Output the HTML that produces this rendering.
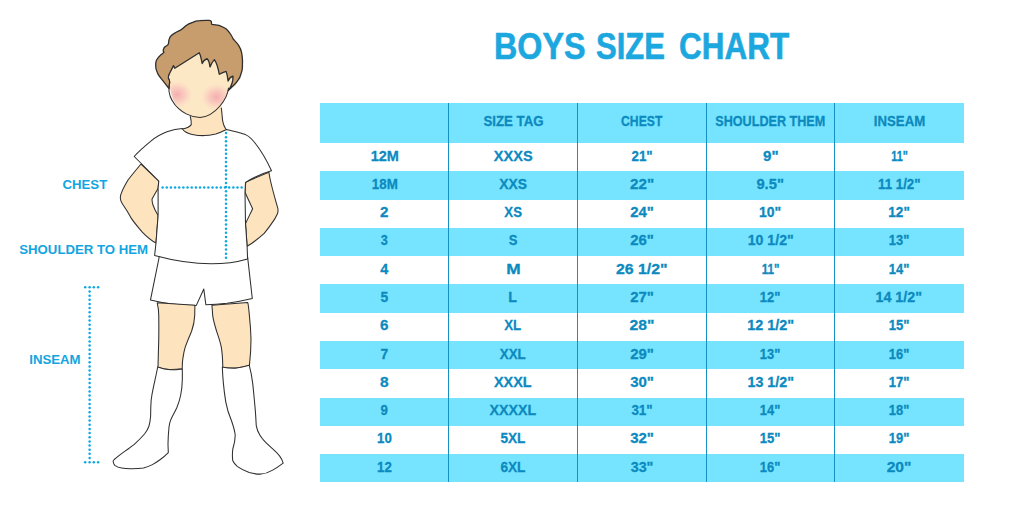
<!DOCTYPE html>
<html><head><meta charset="utf-8"><style>
html,body{margin:0;padding:0;background:#fff;}
body{width:1024px;height:512px;position:relative;overflow:hidden;font-family:"Liberation Sans",sans-serif;}
.band{position:absolute;background:#76E4FE;}
.vl{position:absolute;width:1.05px;background:#1590C3;}
.c{position:absolute;display:flex;align-items:center;justify-content:center;}
.c span{position:relative;display:inline-block;font-weight:bold;font-size:15.2px;line-height:1;color:#0C8ABF;white-space:nowrap;-webkit-text-stroke:0.3px #0C8ABF}
.title{position:absolute;top:28.8px;font-weight:bold;font-size:36px;line-height:1;color:#1CA8DF;white-space:nowrap;transform-origin:0 0;-webkit-text-stroke:0.6px #1CA8DF;}
.lab{position:absolute;font-weight:bold;font-size:13.2px;line-height:1;color:#12A5DF;white-space:nowrap;}
svg{position:absolute;left:0;top:0;}
</style></head><body>
<div class="title" style="left:493.70px;transform:scaleX(0.8959)">BOYS</div><div class="title" style="left:595.70px;transform:scaleX(0.8614)">SIZE</div><div class="title" style="left:679.10px;transform:scaleX(0.8745)">CHART</div>
<div class="band" style="left:320.0px;top:103.0px;width:643.5px;height:40.0px"></div>
<div class="band" style="left:320.0px;top:171.28px;width:643.5px;height:28.28px"></div>
<div class="band" style="left:320.0px;top:227.85px;width:643.5px;height:28.28px"></div>
<div class="band" style="left:320.0px;top:284.42px;width:643.5px;height:28.28px"></div>
<div class="band" style="left:320.0px;top:340.98px;width:643.5px;height:28.28px"></div>
<div class="band" style="left:320.0px;top:397.55px;width:643.5px;height:28.28px"></div>
<div class="band" style="left:320.0px;top:454.12px;width:643.5px;height:28.28px"></div>
<div class="vl" style="left:448.25px;top:103.0px;height:379.40px"></div>
<div class="vl" style="left:576.95px;top:103.0px;height:379.40px"></div>
<div class="vl" style="left:705.65px;top:103.0px;height:379.40px"></div>
<div class="vl" style="left:834.35px;top:103.0px;height:379.40px"></div>
<div class="c" style="left:448.70px;top:103.00px;width:128.70px;height:40.00px"><span style="transform:translateY(-2.20px) scaleX(0.8728)">SIZE TAG</span></div>
<div class="c" style="left:577.40px;top:103.00px;width:128.70px;height:40.00px"><span style="transform:translateY(-2.20px) scaleX(0.8035)">CHEST</span></div>
<div class="c" style="left:706.10px;top:103.00px;width:128.70px;height:40.00px"><span style="transform:translateY(-2.20px) scaleX(0.8299)">SHOULDER THEM</span></div>
<div class="c" style="left:834.80px;top:103.00px;width:128.70px;height:40.00px"><span style="transform:translateY(-2.20px) scaleX(0.8704)">INSEAM</span></div>
<div class="c" style="left:320.00px;top:143.00px;width:128.70px;height:28.28px"><span style="transform:translateY(-2.35px) scaleX(0.9517)">12M</span></div>
<div class="c" style="left:448.70px;top:143.00px;width:128.70px;height:28.28px"><span style="transform:translateY(-2.35px) scaleX(0.9597)">XXXS</span></div>
<div class="c" style="left:577.40px;top:143.00px;width:128.70px;height:28.28px"><span style="transform:translateY(-2.35px) scaleX(0.8764)">21"</span></div>
<div class="c" style="left:706.10px;top:143.00px;width:128.70px;height:28.28px"><span style="transform:translateY(-2.35px) scaleX(0.9954)">9"</span></div>
<div class="c" style="left:834.80px;top:143.00px;width:128.70px;height:28.28px"><span style="transform:translateY(-2.35px) scaleX(0.7099)">11"</span></div>
<div class="c" style="left:320.00px;top:171.28px;width:128.70px;height:28.28px"><span style="transform:translateY(-2.35px) scaleX(0.8777)">18M</span></div>
<div class="c" style="left:448.70px;top:171.28px;width:128.70px;height:28.28px"><span style="transform:translateY(-2.35px) scaleX(0.9136)">XXS</span></div>
<div class="c" style="left:577.40px;top:171.28px;width:128.70px;height:28.28px"><span style="transform:translateY(-2.35px) scaleX(1.0030)">22"</span></div>
<div class="c" style="left:706.10px;top:171.28px;width:128.70px;height:28.28px"><span style="transform:translateY(-2.35px) scaleX(0.9731)">9.5"</span></div>
<div class="c" style="left:834.80px;top:171.28px;width:128.70px;height:28.28px"><span style="transform:translateY(-2.35px) scaleX(0.8761)">11 1/2"</span></div>
<div class="c" style="left:320.00px;top:199.57px;width:128.70px;height:28.28px"><span style="transform:translateY(-2.35px) scaleX(0.9956)">2</span></div>
<div class="c" style="left:448.70px;top:199.57px;width:128.70px;height:28.28px"><span style="transform:translateY(-2.35px) scaleX(0.8708)">XS</span></div>
<div class="c" style="left:577.40px;top:199.57px;width:128.70px;height:28.28px"><span style="transform:translateY(-2.35px) scaleX(0.9826)">24"</span></div>
<div class="c" style="left:706.10px;top:199.57px;width:128.70px;height:28.28px"><span style="transform:translateY(-2.35px) scaleX(0.9166)">10"</span></div>
<div class="c" style="left:834.80px;top:199.57px;width:128.70px;height:28.28px"><span style="transform:translateY(-2.35px) scaleX(0.8944)">12"</span></div>
<div class="c" style="left:320.00px;top:227.85px;width:128.70px;height:28.28px"><span style="transform:translateY(-2.35px) scaleX(0.8373)">3</span></div>
<div class="c" style="left:448.70px;top:227.85px;width:128.70px;height:28.28px"><span style="transform:translateY(-2.35px) scaleX(0.8627)">S</span></div>
<div class="c" style="left:577.40px;top:227.85px;width:128.70px;height:28.28px"><span style="transform:translateY(-2.35px) scaleX(0.9838)">26"</span></div>
<div class="c" style="left:706.10px;top:227.85px;width:128.70px;height:28.28px"><span style="transform:translateY(-2.35px) scaleX(0.9286)">10 1/2"</span></div>
<div class="c" style="left:834.80px;top:227.85px;width:128.70px;height:28.28px"><span style="transform:translateY(-2.35px) scaleX(0.8505)">13"</span></div>
<div class="c" style="left:320.00px;top:256.13px;width:128.70px;height:28.28px"><span style="transform:translateY(-2.35px) scaleX(0.9476)">4</span></div>
<div class="c" style="left:448.70px;top:256.13px;width:128.70px;height:28.28px"><span style="transform:translateY(-2.35px) scaleX(1.1370)">M</span></div>
<div class="c" style="left:577.40px;top:256.13px;width:128.70px;height:28.28px"><span style="transform:translateY(-2.35px) scaleX(1.0453)">26 1/2"</span></div>
<div class="c" style="left:706.10px;top:256.13px;width:128.70px;height:28.28px"><span style="transform:translateY(-2.35px) scaleX(0.7631)">11"</span></div>
<div class="c" style="left:834.80px;top:256.13px;width:128.70px;height:28.28px"><span style="transform:translateY(-2.35px) scaleX(0.8529)">14"</span></div>
<div class="c" style="left:320.00px;top:284.42px;width:128.70px;height:28.28px"><span style="transform:translateY(-2.35px) scaleX(0.9090)">5</span></div>
<div class="c" style="left:448.70px;top:284.42px;width:128.70px;height:28.28px"><span style="transform:translateY(-2.35px) scaleX(0.9400)">L</span></div>
<div class="c" style="left:577.40px;top:284.42px;width:128.70px;height:28.28px"><span style="transform:translateY(-2.35px) scaleX(0.9838)">27"</span></div>
<div class="c" style="left:706.10px;top:284.42px;width:128.70px;height:28.28px"><span style="transform:translateY(-2.35px) scaleX(0.8505)">12"</span></div>
<div class="c" style="left:834.80px;top:284.42px;width:128.70px;height:28.28px"><span style="transform:translateY(-2.35px) scaleX(0.9390)">14 1/2"</span></div>
<div class="c" style="left:320.00px;top:312.70px;width:128.70px;height:28.28px"><span style="transform:translateY(-2.35px) scaleX(0.9972)">6</span></div>
<div class="c" style="left:448.70px;top:312.70px;width:128.70px;height:28.28px"><span style="transform:translateY(-2.35px) scaleX(0.8749)">XL</span></div>
<div class="c" style="left:577.40px;top:312.70px;width:128.70px;height:28.28px"><span style="transform:translateY(-2.35px) scaleX(1.0332)">28"</span></div>
<div class="c" style="left:706.10px;top:312.70px;width:128.70px;height:28.28px"><span style="transform:translateY(-2.35px) scaleX(0.9507)">12 1/2"</span></div>
<div class="c" style="left:834.80px;top:312.70px;width:128.70px;height:28.28px"><span style="transform:translateY(-2.35px) scaleX(0.8599)">15"</span></div>
<div class="c" style="left:320.00px;top:340.98px;width:128.70px;height:28.28px"><span style="transform:translateY(-2.35px) scaleX(0.9090)">7</span></div>
<div class="c" style="left:448.70px;top:340.98px;width:128.70px;height:28.28px"><span style="transform:translateY(-2.35px) scaleX(0.8798)">XXL</span></div>
<div class="c" style="left:577.40px;top:340.98px;width:128.70px;height:28.28px"><span style="transform:translateY(-2.35px) scaleX(0.9838)">29"</span></div>
<div class="c" style="left:706.10px;top:340.98px;width:128.70px;height:28.28px"><span style="transform:translateY(-2.35px) scaleX(0.8505)">13"</span></div>
<div class="c" style="left:834.80px;top:340.98px;width:128.70px;height:28.28px"><span style="transform:translateY(-2.35px) scaleX(0.8505)">16"</span></div>
<div class="c" style="left:320.00px;top:369.27px;width:128.70px;height:28.28px"><span style="transform:translateY(-2.35px) scaleX(1.0180)">8</span></div>
<div class="c" style="left:448.70px;top:369.27px;width:128.70px;height:28.28px"><span style="transform:translateY(-2.35px) scaleX(0.9490)">XXXL</span></div>
<div class="c" style="left:577.40px;top:369.27px;width:128.70px;height:28.28px"><span style="transform:translateY(-2.35px) scaleX(0.9861)">30"</span></div>
<div class="c" style="left:706.10px;top:369.27px;width:128.70px;height:28.28px"><span style="transform:translateY(-2.35px) scaleX(0.9403)">13 1/2"</span></div>
<div class="c" style="left:834.80px;top:369.27px;width:128.70px;height:28.28px"><span style="transform:translateY(-2.35px) scaleX(0.8529)">17"</span></div>
<div class="c" style="left:320.00px;top:397.55px;width:128.70px;height:28.28px"><span style="transform:translateY(-2.35px) scaleX(0.8708)">9</span></div>
<div class="c" style="left:448.70px;top:397.55px;width:128.70px;height:28.28px"><span style="transform:translateY(-2.35px) scaleX(0.9386)">XXXXL</span></div>
<div class="c" style="left:577.40px;top:397.55px;width:128.70px;height:28.28px"><span style="transform:translateY(-2.35px) scaleX(0.8830)">31"</span></div>
<div class="c" style="left:706.10px;top:397.55px;width:128.70px;height:28.28px"><span style="transform:translateY(-2.35px) scaleX(0.8505)">14"</span></div>
<div class="c" style="left:834.80px;top:397.55px;width:128.70px;height:28.28px"><span style="transform:translateY(-2.35px) scaleX(0.8505)">18"</span></div>
<div class="c" style="left:320.00px;top:425.83px;width:128.70px;height:28.28px"><span style="transform:translateY(-2.35px) scaleX(0.8699)">10</span></div>
<div class="c" style="left:448.70px;top:425.83px;width:128.70px;height:28.28px"><span style="transform:translateY(-2.35px) scaleX(0.8953)">5XL</span></div>
<div class="c" style="left:577.40px;top:425.83px;width:128.70px;height:28.28px"><span style="transform:translateY(-2.35px) scaleX(0.9861)">32"</span></div>
<div class="c" style="left:706.10px;top:425.83px;width:128.70px;height:28.28px"><span style="transform:translateY(-2.35px) scaleX(0.8599)">15"</span></div>
<div class="c" style="left:834.80px;top:425.83px;width:128.70px;height:28.28px"><span style="transform:translateY(-2.35px) scaleX(0.8529)">19"</span></div>
<div class="c" style="left:320.00px;top:454.12px;width:128.70px;height:28.28px"><span style="transform:translateY(-2.35px) scaleX(0.8751)">12</span></div>
<div class="c" style="left:448.70px;top:454.12px;width:128.70px;height:28.28px"><span style="transform:translateY(-2.35px) scaleX(0.8979)">6XL</span></div>
<div class="c" style="left:577.40px;top:454.12px;width:128.70px;height:28.28px"><span style="transform:translateY(-2.35px) scaleX(0.9418)">33"</span></div>
<div class="c" style="left:706.10px;top:454.12px;width:128.70px;height:28.28px"><span style="transform:translateY(-2.35px) scaleX(0.8505)">16"</span></div>
<div class="c" style="left:834.80px;top:454.12px;width:128.70px;height:28.28px"><span style="transform:translateY(-2.35px) scaleX(1.0283)">20"</span></div>
<div class="lab" style="left:62.5px;top:177.5px">CHEST</div>
<div class="lab" style="left:19.3px;top:243.2px">SHOULDER TO HEM</div>
<div class="lab" style="left:29.3px;top:352.9px">INSEAM</div>
<svg width="1024" height="512" viewBox="0 0 1024 512">
<defs>
<radialGradient id="bl" cx="0.5" cy="0.5" r="0.5"><stop offset="0" stop-color="#F4A6AE" stop-opacity="0.9"/><stop offset="0.5" stop-color="#F6B6B7" stop-opacity="0.55"/><stop offset="1" stop-color="#F9CFC4" stop-opacity="0"/></radialGradient>
</defs>
<g stroke="#2e2e2e" stroke-width="1.05" stroke-linejoin="round" stroke-linecap="round">
<!-- neck -->
<path d="M190.3,112 L191.25,124.6 C190,126.5 186,128.3 182.5,129 C184,131.5 188,133.5 192.2,134.4 C197,135.4 200,135.6 204,135.6 C208,135.5 212,134.8 215.7,134 C219,133 222.5,131.5 226.4,129.5 C224,126.5 223,122 222.5,119.8 L221.3,104 Z" fill="#FDE4BE" stroke="none"/>
<path d="M190.3,116.5 C191,119 191.4,122 191.25,124.6 C190,126.5 186,128.3 182.5,129" fill="none"/>
<path d="M221.3,108 C222,113 222.2,117 222.5,119.8 C223.2,124 224,127 226.4,129.5" fill="none"/>
<!-- face -->
<clipPath id="fc"><path d="M169,70 C168.5,95 175,109 186.5,114 C191,116.5 196,117.8 200,117.6 C207,117 214,113 220,106 C225,100 228,94 228.5,88 L236,86 L236,60 L200,50 Z"/></clipPath>
<path d="M169,70 C168.5,95 175,109 186.5,114 C191,116.5 196,117.8 200,117.6 C207,117 214,113 220,106 C225,100 228,94 228.5,88 L236,86 L236,60 L200,50 Z" fill="#FDE8C6" stroke="none"/>
<g clip-path="url(#fc)"><ellipse cx="177" cy="94.5" rx="16" ry="14" fill="url(#bl)" stroke="none"/>
<ellipse cx="216.5" cy="97" rx="16" ry="14" fill="url(#bl)" stroke="none"/></g>
<path d="M169,74.5 C168.3,76 168.2,77.5 168.4,78.3 C169.5,80 169.8,81 169.7,82.1 C169.2,85 168.9,88 169,91.25 C169.5,95 170.5,98 172.2,100.6 C174,104 176,106.5 178.4,108.4 C181,110.8 183.5,112.5 186.25,113.9 C190,115.8 195,117.5 200,117.6 C207,117 214,113 220,106 C225,100 228,94 228.5,88" fill="none"/>
<!-- hair -->
<path d="M169,88.5 C166,85 164,82 162,79.6 C159.5,76.5 158,74.5 157.6,73.25 C156,70 155.5,68 155.7,65.6 C155.6,63 155.8,62 156.3,60.6 C157.5,58 159,56.5 160.2,55.5 C162,54 163.5,53.2 164,52.3 C163.2,51.5 163,50.5 163.3,49.8 C163.8,48 164.5,47 165.2,46.6 C167,45.8 168,45 168.4,44 C168.6,41 169,39 169.7,37.7 C170.8,35.8 172,34.8 173.5,33.9 C175.5,32.5 178,31.2 180.5,30.1 C183,28.8 184.5,27 185.9,25.7 C188,24 190.5,23 192.7,22.3 C195,21.3 197,20.9 199.5,20.7 C203,20.3 206,20.2 209.3,20.4 C210.3,20.5 211,20.8 211.2,21.3 C211.5,22.3 211.5,23.5 211.7,24.3 C214,24.5 216.5,24.8 219,25.3 C221.5,26.3 224,27.3 226,28.7 C228,30.5 229.5,32.5 230.8,34.5 C231.8,36 232.5,37.5 233.2,39 C235,41 237,43 238.6,45.3 C240,47.5 241,49.7 241.5,52.1 C242.2,55 242.4,58 242.5,60.8 C242.5,65 242.5,67 242.2,69.7 C241.5,73 240.5,75 239.8,77.5 C238,80 237,82 235.2,83.75 C233,86 231,88 228.3,90.5 C231.5,86 233.2,81 233,76.25 C231,76.5 229.5,78 228.1,81.1 C227.8,78 227,74 226.1,71.4 C224,72 222,72.8 219.3,74.3 C218,67 216,62 214.4,59.6 C212.5,61.6 211,64 210,67 C209.5,63 208.5,60 207.1,58.7 C204,60 202.8,61.5 202.2,63.6 C201.5,61 201,56 199.3,52.8 L174.8,68.2 L173.5,65.6 L169,74.5 C168.3,76 168.2,77.5 168.4,78.3 C169.5,80 169.8,81 169.7,82.1 C169.2,84 169,86 169,88.5 Z" fill="#C89D6E" stroke-width="1.3"/>
<!-- left arm -->
<path d="M141,164 C136,170 131,176 128,180 C125,185 122,190 120.5,195.7 C120,199 121,202 122.5,204 C126,209 129,214 131.4,218.4 C135,224 139,228 142.3,232.1 C147,237 152,241 156,243 L158.1,215.6 C156,212 154,208 153,205 C152,202 152,200 152,199.2 C153.5,196 156,192 158.1,188.2 L158.8,181 Z" fill="#FDE4BE"/>
<!-- right arm -->
<path d="M268.8,172.2 L270.3,180 C272.5,190 275.5,200 277.9,208.7 C278.2,211 277.8,213 277.2,214.2 C276,217 274.5,219.5 272.4,222.4 C270,226 267,230 264.2,233.4 C259,238 253,243 247.1,246.3 L245.5,223.8 C247.5,219 250.5,213.5 252.6,208.7 C250.5,204 247,197 245,192.3 L245.7,182 Z" fill="#FDE4BE"/>
<!-- shorts -->
<path d="M159.4,256 L150.5,299.9 C157,301.5 164,303 172.3,304 C180,304.8 188,305.2 196.3,305.4 L203.8,289 L205.85,304.7 C213,304.5 220,304 227,303.3 C236,302 244,300.5 252.3,298.5 L247.6,257 Z" fill="#fff"/>
<!-- legs -->
<path d="M157.2,302.8 C158.3,307 158.75,311 158.75,315.6 C158.9,324 158.9,331 158.75,339 C158.5,349 158.2,358 158,367.2 C163,368.7 166,369.4 169.7,369.5 C174,369.6 178,369.3 182.2,368.75 C182.3,364 182.5,360 183,357.8 C183.7,353 184.3,350 185.3,346.9 C187.5,341 189.5,336 191.6,331.25 C193.5,326 194.5,320 194.7,315.6 L194.9,305.2 Z" fill="#FDE4BE"/>
<path d="M211.9,305.2 C212.3,309 212.5,312 212.7,315.6 C213.5,321 215,326 216.6,331.25 C218.2,336 220,341 221.25,346.9 C222.3,353 222.7,360 222.8,367.2 C227,367.8 232,368.2 236.9,368 C241,367.6 245,366.8 249.4,365.6 C250.4,357 251,348 251,339 C250.8,331 250.2,323 249.4,315.6 C249,311 248.5,306 247.8,302.5 Z" fill="#FDE4BE"/>
<!-- socks -->
<path d="M157.7,367 C156,376 153.5,386 151.9,395 C151.2,399 150.9,402 150.9,404.8 C150.7,409 150.7,413 150.6,416.5 C150.3,420 149.8,423 148.9,426.25 C148,429 146.5,431.5 144.5,434 C141.5,437.5 138,441 134.3,444.3 C127,450 120,454.5 114.2,459.5 C113.4,460.3 113.1,461 113.1,461.5 C113.4,463 114,464.3 114.8,465.3 C116.8,466.8 119,467.6 121.7,468 C125,468.6 128.5,468.8 131.9,468.7 C136,468.7 140,468.5 143.5,468 C146.5,467.2 149.5,466 152.4,464.6 C155,463.3 157.5,461.6 160,459.8 C163,457.6 165.8,455.2 168.3,452.6 C168.2,449 168,446 168,443.8 C168.1,438 168.5,432 169,427.2 C169.5,424 170,421.5 170.9,419.4 C172.8,415.5 175,411.5 176.8,407.7 C178.5,403.5 180,399 180.7,395 C181.7,390 182.2,385 182.3,380 C182.4,376 182.3,372 182.3,368.9 C178,369.5 174,369.8 170.6,369.8 C166,369.6 162,368.6 157.7,367 Z" fill="#fff"/>
<path d="M222.3,367 C222.5,372 222.9,378 223.4,383.4 C224,390 224.8,396 225.8,402.2 C227,409 229,415 231.6,421 C233.3,426 234.7,430 235.2,435 C235.3,440 234,445 232.8,449 C232.3,453 232.2,457 232.8,460.8 C233.8,463 235.5,465 237.5,466.6 C241,469 245,471 249.2,472.5 C253,473.6 257,474.2 261,474.1 C265,473.8 269,472.2 272.7,470.1 C276.5,468 280,465.5 283.2,463.1 C282.5,460.5 281.3,458.2 279.7,456.1 C277,452.5 273.5,449.5 270.3,446.7 C266,443 262.5,439.5 259.8,435 C258,432 256.8,429 256.25,425.6 C255.9,419 255.6,413 255,406.9 C254.2,399 253.6,391 252.7,383.4 C251.9,377 250.8,371 249.2,365.2 C245,366.5 240,367.6 235.2,368.2 C231,368.3 226,367.8 222.3,367 Z" fill="#fff"/>
<!-- shirt -->
<path d="M182.5,128.6 C177,129 173,129.8 167,131.8 C161,134 155,137.5 150.6,141.4 C145,146 139,151 134.2,156.5 L158.8,181 L158.1,188.2 L158.1,215.6 L156,243 L154.6,255.5 Q209.3,270.2 247.6,258.9 L247.1,246.3 L245.5,223.8 L245,192.3 L245.5,182.5 C253,177.5 262,173.5 271.5,170.8 C267,161 262,152 256.5,145 C253,140 249.5,136.5 245.5,134.6 C239,132.5 233,131.2 226.4,129.5 C222.5,131.5 219,133 215.7,134 C212,134.8 208,135.5 204,135.6 C200,135.6 197,135.4 192.2,134.4 C188,133.5 184,131.5 182.5,129 Z" fill="#fff"/>
</g>
<g fill="#0FA8E2">
<circle cx="89.60" cy="287.30" r="1.25"/>
<circle cx="89.60" cy="291.46" r="1.25"/>
<circle cx="89.60" cy="295.63" r="1.25"/>
<circle cx="89.60" cy="299.79" r="1.25"/>
<circle cx="89.60" cy="303.96" r="1.25"/>
<circle cx="89.60" cy="308.12" r="1.25"/>
<circle cx="89.60" cy="312.29" r="1.25"/>
<circle cx="89.60" cy="316.45" r="1.25"/>
<circle cx="89.60" cy="320.61" r="1.25"/>
<circle cx="89.60" cy="324.78" r="1.25"/>
<circle cx="89.60" cy="328.94" r="1.25"/>
<circle cx="89.60" cy="333.11" r="1.25"/>
<circle cx="89.60" cy="337.27" r="1.25"/>
<circle cx="89.60" cy="341.44" r="1.25"/>
<circle cx="89.60" cy="345.60" r="1.25"/>
<circle cx="89.60" cy="349.76" r="1.25"/>
<circle cx="89.60" cy="353.93" r="1.25"/>
<circle cx="89.60" cy="358.09" r="1.25"/>
<circle cx="89.60" cy="362.26" r="1.25"/>
<circle cx="89.60" cy="366.42" r="1.25"/>
<circle cx="89.60" cy="370.59" r="1.25"/>
<circle cx="89.60" cy="374.75" r="1.25"/>
<circle cx="89.60" cy="378.91" r="1.25"/>
<circle cx="89.60" cy="383.08" r="1.25"/>
<circle cx="89.60" cy="387.24" r="1.25"/>
<circle cx="89.60" cy="391.41" r="1.25"/>
<circle cx="89.60" cy="395.57" r="1.25"/>
<circle cx="89.60" cy="399.74" r="1.25"/>
<circle cx="89.60" cy="403.90" r="1.25"/>
<circle cx="89.60" cy="408.06" r="1.25"/>
<circle cx="89.60" cy="412.23" r="1.25"/>
<circle cx="89.60" cy="416.39" r="1.25"/>
<circle cx="89.60" cy="420.56" r="1.25"/>
<circle cx="89.60" cy="424.72" r="1.25"/>
<circle cx="89.60" cy="428.89" r="1.25"/>
<circle cx="89.60" cy="433.05" r="1.25"/>
<circle cx="89.60" cy="437.21" r="1.25"/>
<circle cx="89.60" cy="441.38" r="1.25"/>
<circle cx="89.60" cy="445.54" r="1.25"/>
<circle cx="89.60" cy="449.71" r="1.25"/>
<circle cx="89.60" cy="453.87" r="1.25"/>
<circle cx="89.60" cy="458.04" r="1.25"/>
<circle cx="89.60" cy="462.20" r="1.25"/>
<circle cx="85.20" cy="287.30" r="1.25"/>
<circle cx="85.20" cy="462.20" r="1.25"/>
<circle cx="93.80" cy="287.30" r="1.25"/>
<circle cx="93.80" cy="462.20" r="1.25"/>
<circle cx="98.10" cy="287.30" r="1.25"/>
<circle cx="98.10" cy="462.20" r="1.25"/>
<circle cx="226.00" cy="133.00" r="1.25"/>
<circle cx="226.00" cy="137.16" r="1.25"/>
<circle cx="226.00" cy="141.32" r="1.25"/>
<circle cx="226.00" cy="145.48" r="1.25"/>
<circle cx="226.00" cy="149.64" r="1.25"/>
<circle cx="226.00" cy="153.80" r="1.25"/>
<circle cx="226.00" cy="157.96" r="1.25"/>
<circle cx="226.00" cy="162.12" r="1.25"/>
<circle cx="226.00" cy="166.28" r="1.25"/>
<circle cx="226.00" cy="170.44" r="1.25"/>
<circle cx="226.00" cy="174.60" r="1.25"/>
<circle cx="226.00" cy="178.76" r="1.25"/>
<circle cx="226.00" cy="182.92" r="1.25"/>
<circle cx="226.00" cy="187.08" r="1.25"/>
<circle cx="226.00" cy="191.24" r="1.25"/>
<circle cx="226.00" cy="195.40" r="1.25"/>
<circle cx="226.00" cy="199.56" r="1.25"/>
<circle cx="226.00" cy="203.72" r="1.25"/>
<circle cx="226.00" cy="207.88" r="1.25"/>
<circle cx="226.00" cy="212.04" r="1.25"/>
<circle cx="226.00" cy="216.20" r="1.25"/>
<circle cx="226.00" cy="220.36" r="1.25"/>
<circle cx="226.00" cy="224.52" r="1.25"/>
<circle cx="226.00" cy="228.68" r="1.25"/>
<circle cx="226.00" cy="232.84" r="1.25"/>
<circle cx="226.00" cy="237.00" r="1.25"/>
<circle cx="226.00" cy="241.16" r="1.25"/>
<circle cx="226.00" cy="245.32" r="1.25"/>
<circle cx="226.00" cy="249.48" r="1.25"/>
<circle cx="226.00" cy="253.64" r="1.25"/>
<circle cx="226.00" cy="257.80" r="1.25"/>
<circle cx="162.60" cy="187.50" r="1.25"/>
<circle cx="166.76" cy="187.50" r="1.25"/>
<circle cx="170.92" cy="187.50" r="1.25"/>
<circle cx="175.08" cy="187.50" r="1.25"/>
<circle cx="179.24" cy="187.50" r="1.25"/>
<circle cx="183.40" cy="187.50" r="1.25"/>
<circle cx="187.56" cy="187.50" r="1.25"/>
<circle cx="191.72" cy="187.50" r="1.25"/>
<circle cx="195.88" cy="187.50" r="1.25"/>
<circle cx="200.04" cy="187.50" r="1.25"/>
<circle cx="204.20" cy="187.50" r="1.25"/>
<circle cx="208.36" cy="187.50" r="1.25"/>
<circle cx="212.52" cy="187.50" r="1.25"/>
<circle cx="216.68" cy="187.50" r="1.25"/>
<circle cx="220.84" cy="187.50" r="1.25"/>
<circle cx="225.00" cy="187.50" r="1.25"/>
<circle cx="229.16" cy="187.50" r="1.25"/>
<circle cx="233.32" cy="187.50" r="1.25"/>
<circle cx="237.48" cy="187.50" r="1.25"/>
<circle cx="241.64" cy="187.50" r="1.25"/>
</g>
</svg>

</body></html>
